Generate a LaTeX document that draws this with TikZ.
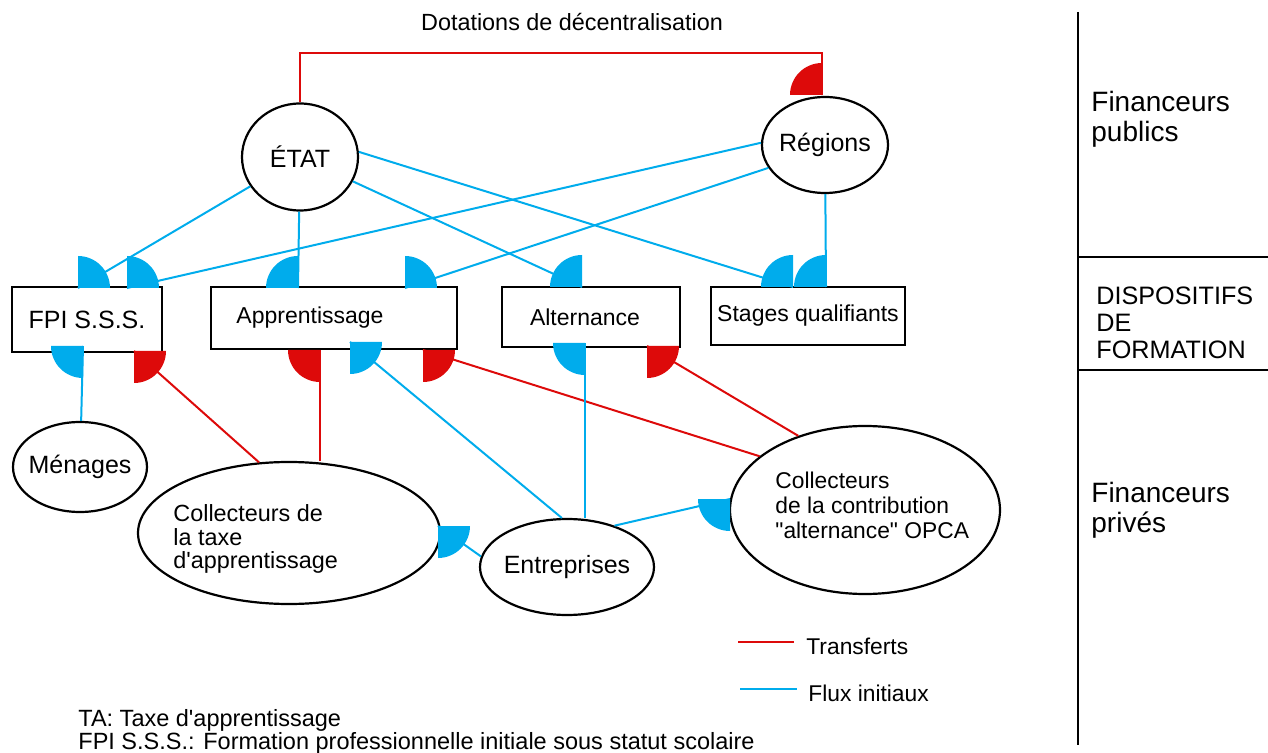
\documentclass[tikz,border=0pt]{standalone}
\usepackage{fontspec}
\setmainfont{Liberation Sans}[Ligatures=TeXOff]
\usepackage{tikz}
\usetikzlibrary{shapes.geometric}
\definecolor{rouge}{RGB}{221,10,10}
\definecolor{bleu}{RGB}{0,172,236}
\newcommand{\quart}[3]{\fill[#1] (#2) -- ++(#3:32) arc[start angle=#3, delta angle=90, radius=32] -- cycle;}
\newcommand{\taille}[2]{\fontsize{#1}{#2}\selectfont}

\tikzset{
    ovale/.style={ellipse, draw, line width=1.1pt, inner sep=0pt, font=\taille{12.5}{15}},
    boite/.style={rectangle, draw, line width=1.1pt, inner sep=0pt, font=\taille{11.5}{14}},
    transf/.style={rouge, line width=1pt},
    flux/.style={bleu, line width=1pt},
    texte/.style={inner sep=0pt, anchor=west, align=left, font=\taille{11.7}{11.75}}
}

\begin{document}
\begin{tikzpicture}[x=0.5pt, y=-0.5pt]
    \useasboundingbox (0,0) rectangle (1268,753);
    % financeurs publics
    \node[ovale, minimum width=58pt, minimum height=53.5pt] (etat) at (300,157) {\makebox[0pt]{ÉTAT}};
    \node[ovale, minimum width=63pt, minimum height=48pt] (reg) at (825,145) {\makebox[0pt]{Régions}};
    \node[font=\taille{11.7}{14}] (dot) at (572,22) {Dotations de décentralisation};
    % dispositifs de formation
    \node[boite, minimum width=75pt, minimum height=32.5pt, font=\taille{12.5}{15}] (fpi) at (87,319.5) {FPI S.S.S.};
    \node[boite, minimum width=123pt, minimum height=31pt] (app) at (334,318) {Apprentissage\hspace*{24pt}};
    \node[boite, minimum width=89pt, minimum height=30pt] (alt) at (591,317) {Alternance\hspace*{6pt}};
    \node[boite, minimum width=97pt, minimum height=29pt] (stg) at (808,316) {Stages qualifiants};
    % financeurs prives
    \node[ovale, minimum width=67pt, minimum height=45pt] (men) at (80,467) {\makebox[0pt]{Ménages}};
    \node[ovale, minimum width=151pt, minimum height=71pt] (cta) at (289,533) {};
    \node[ovale, minimum width=87pt, minimum height=48pt] (ent) at (567,567) {\makebox[0pt]{Entreprises}};
    \node[ovale, minimum width=135pt, minimum height=84pt] (opca) at (865,510) {};
    \node[texte] (cta-t) at (173,539) {Collecteurs de\\la taxe\\d'apprentissage};
    \node[texte, font=\taille{11.4}{12.5}] (opca-t) at (775,505) {Collecteurs\\de la contribution\\"alternance" OPCA};
    % points d'attache
    \coordinate (haut) at (560,53);
    \coordinate (r0) at (822,95);
    \coordinate (f1) at (78,288);
    \coordinate (f2) at (127,288);
    \coordinate (f3) at (83,346);
    \coordinate (f4) at (134,351);
    \coordinate (a1) at (298,288);
    \coordinate (a2) at (405,288);
    \coordinate (a3) at (320,350);
    \coordinate (a4) at (350,342);
    \coordinate (a5) at (423,350);
    \coordinate (l1) at (582,287);
    \coordinate (l2) at (585,343);
    \coordinate (l3) at (647,346);
    \coordinate (s1) at (793,287);
    \coordinate (s2) at (826,287);
    \coordinate (c1) at (438,526);
    \coordinate (o1) at (730,499);
    % transferts
    \draw[transf] (etat.north) |- (haut) -| (r0);
    \draw[transf] (cta.113) -- (f4);
    \draw[transf] (a3 |- cta.north) -- (a3);
    \draw[transf] (opca.153) -- (a5);
    \draw[transf] (opca.132) -- (l3);
    % flux initiaux
    \draw[flux] (etat) -- (f1);
    \draw[flux] (reg.178) -- (f2);
    \draw[flux] (etat) -- (a1);
    \draw[flux] (reg.202) -- (a2);
    \draw[flux] (etat) -- (l1);
    \draw[flux] (etat.5) -- (s1);
    \draw[flux] (reg) -- (s2);
    \draw[flux] (men) -- (f3);
    \draw[flux] (ent.96) -- (a4);
    \draw[flux] (l2 |- ent.north) -- (l2);
    \draw[flux] (ent.173) -- (c1);
    \draw[flux] (ent.41) -- (o1);
    % quarts de disque
    \quart{rouge}{r0}{180}
    \quart{rouge}{f4}{0}
    \quart{rouge}{a3}{90}
    \quart{rouge}{a5}{0}
    \quart{rouge}{l3}{0}
    \quart{bleu}{f1}{270}
    \quart{bleu}{f2}{270}
    \quart{bleu}{f3}{90}
    \quart{bleu}{a1}{180}
    \quart{bleu}{a2}{270}
    \quart{bleu}{a4}{0}
    \quart{bleu}{l1}{180}
    \quart{bleu}{l2}{90}
    \quart{bleu}{s1}{180}
    \quart{bleu}{s2}{180}
    \quart{bleu}{c1}{0}
    \quart{bleu}{o1}{90}
    % colonne de droite
    \draw[line width=1.1pt] (1078,12) -- (1078,745);
    \draw[line width=1.1pt] (1078,257) -- (1268,257);
    \draw[line width=1.1pt] (1078,370) -- (1268,370);
    \node[texte, font=\taille{14}{15}] (pub) at (1091,119) {Financeurs\\publics};
    \node[texte, font=\taille{12.6}{13.5}] (disp) at (1096,323) {DISPOSITIFS\\DE\\FORMATION};
    \node[texte, font=\taille{14}{15}] (priv) at (1091,510) {Financeurs\\privés};
    % legende
    \draw[transf] (738,642) -- (794,642);
    \node[texte, font=\taille{11.4}{14}] (leg-t) at (806,646) {Transferts};
    \draw[flux] (740,689) -- (797,689);
    \node[texte, font=\taille{11.4}{14}] (leg-f) at (808,693) {Flux initiaux};
    % notes
    \node[texte, font=\taille{11.75}{14}] (n1) at (78,720) {TA: Taxe d'apprentissage};
    \node[texte, font=\taille{11.75}{14}] (n2) at (78,743) {FPI S.S.S.: Formation professionnelle initiale sous statut scolaire};
\end{tikzpicture}
\end{document}
